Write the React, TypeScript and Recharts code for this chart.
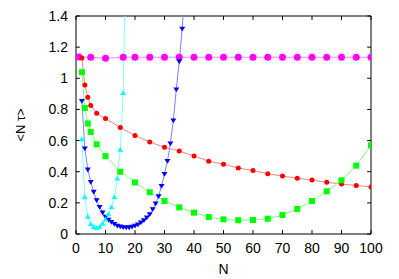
import React from "react";
import { LineChart, Line, XAxis, YAxis, ReferenceLine, ReferenceArea } from "recharts";

const xTicks = [0, 10, 20, 30, 40, 50, 60, 70, 80, 90, 100];
const yTicks = [0, 0.2, 0.4, 0.6, 0.8, 1, 1.2, 1.4];

const magentaN = [1, 5, 10, 16, 20, 25, 30, 35, 40, 45, 50, 55, 60, 65, 70, 75, 80, 85, 90, 95, 100];
const magentaV = [1.137, 1.135, 1.128, 1.135, 1.135, 1.135, 1.135, 1.135, 1.135, 1.135, 1.135, 1.135, 1.135, 1.135, 1.135, 1.135, 1.135, 1.135, 1.135, 1.135, 1.135];

const redN = [2, 3, 4, 5, 7, 10, 15, 20, 25, 30, 35, 40, 45, 50, 55, 60, 65, 70, 75, 80, 85, 90, 95, 100];
const redV = [1.13, 0.957, 0.878, 0.826, 0.775, 0.742, 0.684, 0.632, 0.591, 0.557, 0.533, 0.501, 0.467, 0.448, 0.424, 0.407, 0.387, 0.372, 0.358, 0.347, 0.332, 0.321, 0.312, 0.302];

const greenN = [2, 3, 4, 5, 7, 10, 15, 20, 25, 30, 35, 40, 45, 50, 55, 60, 65, 70, 75, 80, 85, 90, 95, 100];
const greenV = [1.039, 0.809, 0.71, 0.655, 0.576, 0.5, 0.4, 0.331, 0.268, 0.212, 0.171, 0.137, 0.109, 0.094, 0.088, 0.09, 0.098, 0.122, 0.161, 0.212, 0.274, 0.345, 0.439, 0.57];

const blueN = [2, 3, 4, 5, 6, 7, 8, 9, 10, 11, 12, 13, 14, 15, 16, 17, 18, 19, 20, 21, 22, 23, 24, 25, 26, 27, 28, 29, 30, 31, 32, 33, 34, 35, 36, 37];
const blueV = [0.855, 0.55, 0.415, 0.335, 0.272, 0.218, 0.175, 0.14, 0.112, 0.092, 0.079, 0.066, 0.055, 0.049, 0.045, 0.043, 0.044, 0.048, 0.054, 0.063, 0.075, 0.09, 0.107, 0.128, 0.16, 0.197, 0.244, 0.31, 0.387, 0.47, 0.582, 0.73, 0.93, 1.11, 1.32, 1.6];

const cyanN = [2, 3, 4, 5, 6, 7, 8, 9, 10, 11, 12, 13, 14, 15, 16, 17];
const cyanV = [0.608, 0.235, 0.11, 0.062, 0.043, 0.038, 0.045, 0.065, 0.092, 0.125, 0.17, 0.235, 0.355, 0.54, 0.904, 1.9];

const pts = (ns: number[], vs: number[]) => ns.map((n, i) => ({ n, v: vs[i] }));

const font = "'Liberation Sans', Arial, sans-serif";

const circleDot = (r: number, color: string) => (p: any) => (
  <circle key={`c${color}${p.index}`} cx={p.cx} cy={p.cy} r={r} fill={color} stroke="none" />
);
const squareDot = (s: number, color: string) => (p: any) => (
  <rect key={`s${p.index}`} x={p.cx - s} y={p.cy - s} width={s * 2} height={s * 2} fill={color} />
);
const triDot = (s: number, color: string, down: boolean) => (p: any) => {
  const d = down ? 1 : -1;
  const path = `M${p.cx - s},${p.cy - d * s * 0.6} L${p.cx + s},${p.cy - d * s * 0.6} L${p.cx},${p.cy + d * s} Z`;
  return <path key={`t${color}${p.index}`} d={path} fill={color} />;
};

const YTitle = (props: any) => {
  const vb = props.viewBox || { y: 0, height: 0 };
  const cy = vb.y + vb.height / 2;
  return (
    <text x={12} y={cy} transform={`rotate(-90 12 ${cy})`} textAnchor="middle" dominantBaseline="central"
      fontFamily={font} fontSize={13} fill="#000">
      {"<N τ>"}
    </text>
  );
};

const XTitle = (props: any) => {
  const vb = props.viewBox || { x: 0, y: 0, width: 0 };
  return (
    <text x={vb.x + vb.width / 2} y={vb.y + 35} textAnchor="middle" dominantBaseline="central"
      fontFamily={font} fontSize={14} fill="#000">
      N
    </text>
  );
};

export default function App() {
  return (
    <LineChart width={383} height={271} margin={{ top: 8, right: 20, bottom: 5, left: 4 }}>
      <XAxis
        type="number"
        dataKey="n"
        domain={[0, 100]}
        ticks={xTicks}
        allowDataOverflow
        axisLine={false}
        tickLine={false}
        tickSize={0}
        tickMargin={9}
        height={40}
        tick={{ fontSize: 14, fill: "#000", fontFamily: font }}
        label={<XTitle />}
      />
      <YAxis
        type="number"
        domain={[0, 1.4]}
        ticks={yTicks}
        allowDataOverflow
        axisLine={false}
        tickLine={false}
        tickSize={0}
        tickMargin={8}
        width={64}
        tick={{ fontSize: 14, fill: "#000", fontFamily: font }}
        label={<YTitle />}
      />
      <ReferenceArea x1={0} x2={100} y1={0} y2={1.4} fill="none" stroke="#000" strokeWidth={1} />
      {xTicks.map((t) => (
        <ReferenceLine key={`xb${t}`} segment={[{ x: t, y: 0 }, { x: t, y: 0.025 }]} stroke="#000" />
      ))}
      {xTicks.map((t) => (
        <ReferenceLine key={`xt${t}`} segment={[{ x: t, y: 1.4 }, { x: t, y: 1.375 }]} stroke="#000" />
      ))}
      {yTicks.map((t) => (
        <ReferenceLine key={`yl${t}`} segment={[{ x: 0, y: t }, { x: 1.3, y: t }]} stroke="#000" />
      ))}
      {yTicks.map((t) => (
        <ReferenceLine key={`yr${t}`} segment={[{ x: 100, y: t }, { x: 98.7, y: t }]} stroke="#000" />
      ))}
      <Line data={pts(magentaN, magentaV)} dataKey="v" stroke="#ff80ff" strokeWidth={1}
        dot={circleDot(3.5, "#ff00ff")} isAnimationActive={false} />
      <Line data={pts(redN, redV)} dataKey="v" stroke="#ff8080" strokeWidth={1}
        dot={circleDot(2.5, "#ff0000")} isAnimationActive={false} />
      <Line data={pts(greenN, greenV)} dataKey="v" stroke="#80ff80" strokeWidth={1}
        dot={squareDot(3, "#00ff00")} isAnimationActive={false} />
      <Line data={pts(blueN, blueV)} dataKey="v" stroke="#8080ff" strokeWidth={1}
        dot={triDot(3, "#0000ff", true)} isAnimationActive={false} />
      <Line data={pts(cyanN, cyanV)} dataKey="v" stroke="#80ffff" strokeWidth={1}
        dot={triDot(3, "#00ffff", false)} isAnimationActive={false} />
    </LineChart>
  );
}
